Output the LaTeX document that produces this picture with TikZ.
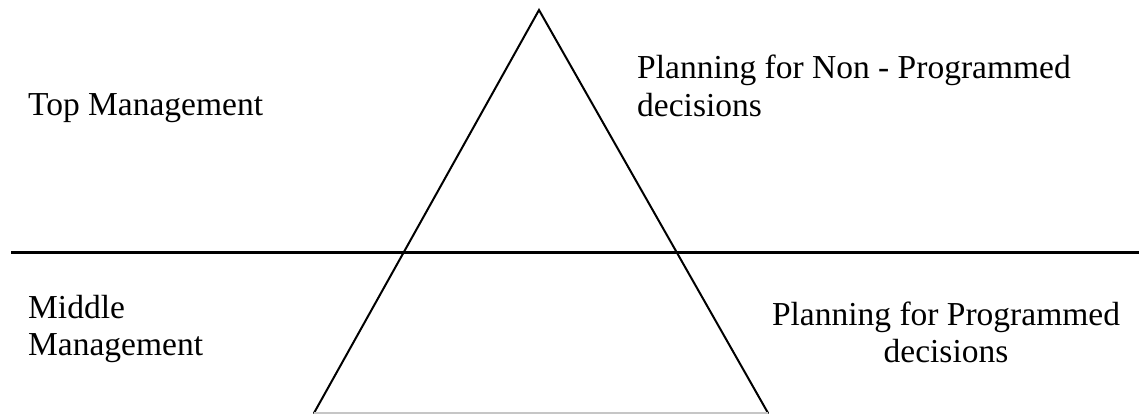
\documentclass[tikz,border=0pt]{standalone}
\usepackage{fontspec}
\setmainfont{Liberation Serif}
\begin{document}
\begin{tikzpicture}[x=1pt,y=-1pt,
  label/.style={inner sep=0pt,font=\fontsize{33.5}{37.5}\selectfont},
  edge/.style={line width=2pt,line cap=round,line join=miter},
  divider/.style={line width=3pt}]
  \useasboundingbox (0,0) rectangle (1139,415);
  % pyramid
  \coordinate (apex) at (539,10);
  \coordinate (bl) at (314,413);
  \coordinate (br) at (768,413);
  \draw[edge] (bl) -- (apex) -- (br);
  \draw[gray!45,line width=1.2pt] (bl) -- (br);
  % level divider
  \coordinate (dl) at (11,252);
  \coordinate (dr) at (1139,252);
  \draw[divider] (dl) -- (dr);
  % left labels
  \node[label,anchor=base west] (top) at (28,115) {Top Management};
  \node[label,anchor=base west] (mid1) at (28,318) {Middle};
  \node[label,anchor=base west] (mid2) at (28,355) {Management};
  % right labels
  \node[label,anchor=base west] (np1) at (637,78) {Planning for Non - Programmed};
  \node[label,anchor=base west] (np2) at (637,116) {decisions};
  \node[label,anchor=base] (pr1) at (946,325) {Planning for Programmed};
  \node[label,anchor=base] (pr2) at (946,362) {decisions};
\end{tikzpicture}
\end{document}
